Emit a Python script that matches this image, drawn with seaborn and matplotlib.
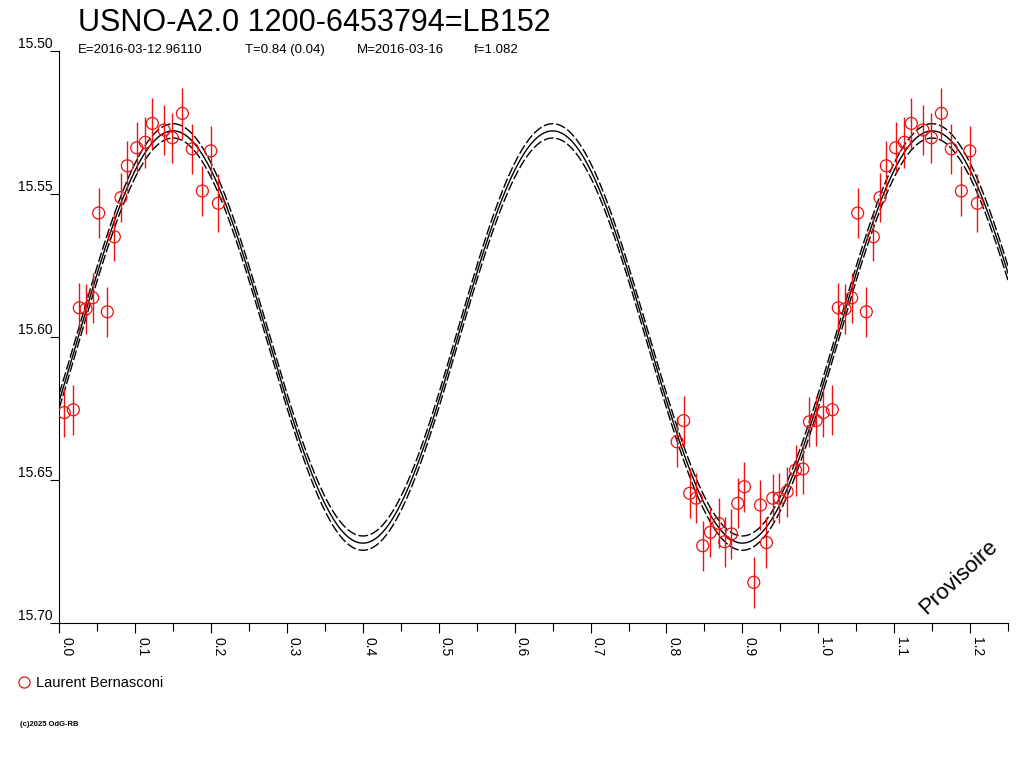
import numpy as np
import pandas as pd
import matplotlib
matplotlib.use("Agg")
import matplotlib.pyplot as plt
import seaborn as sns
from matplotlib.ticker import MultipleLocator, FormatStrFormatter
from matplotlib.lines import Line2D

# --- texts ---
title = "USNO-A2.0 1200-6453794=LB152"
info = ["E=2016-03-12.96110", "T=0.84 (0.04)", "M=2016-03-16", "f=1.082"]
observer = "Laurent Bernasconi"

# --- observations (phase in [0,1), magnitude, 1-sigma error) ---
phase = [0.0066, 0.0185, 0.0264, 0.0352, 0.0440, 0.0519, 0.0633, 0.0725, 0.0813, 0.0897,
         0.1020, 0.1134, 0.1226, 0.1380, 0.1490, 0.1622, 0.1753, 0.1885, 0.1996, 0.2096,
         0.8140, 0.8227, 0.8306, 0.8394, 0.8477, 0.8579, 0.8688, 0.8767, 0.8856, 0.8939,
         0.9027, 0.9150, 0.9238, 0.9317, 0.9400, 0.9489, 0.9590, 0.9700, 0.9796, 0.9884,
         0.9972]
mag = [15.6264, 15.6254, 15.5898, 15.5902, 15.5863, 15.5567, 15.5912, 15.5650, 15.5513, 15.5402,
       15.5339, 15.5320, 15.5254, 15.5277, 15.5304, 15.5219, 15.5343, 15.5490, 15.5350, 15.5533,
       15.6366, 15.6292, 15.6546, 15.6563, 15.6729, 15.6682, 15.6651, 15.6715, 15.6688, 15.6581,
       15.6523, 15.6857, 15.6587, 15.6718, 15.6563, 15.6563, 15.6540, 15.6465, 15.6461, 15.6296,
       15.6292]
mag_err = [0.0086, 0.0088, 0.0086, 0.0087, 0.0087, 0.0088, 0.0087, 0.0084, 0.0087, 0.0087,
           0.0089, 0.0088, 0.0088, 0.0087, 0.0087, 0.0088, 0.0087, 0.0088, 0.0088, 0.0102,
           0.0087, 0.0087, 0.0087, 0.0087, 0.0088, 0.0087, 0.0087, 0.0088, 0.0087, 0.0087,
           0.0087, 0.0088, 0.0088, 0.0090, 0.0086, 0.0087, 0.0087, 0.0089, 0.0088, 0.0088,
           0.0087]

# --- fitted double-wave model (two maxima per rotation) ---
fit_mean = 15.600
fit_amp = 0.072
fit_max_phase = 0.15
fit_sigma = 0.0025
phase_max = 1.25

sns.set_theme(style="ticks", rc={'text.color': 'black', 'xtick.color': 'black',
                                 'ytick.color': 'black', 'axes.labelcolor': 'black'})
plt.rcParams['font.family'] = ['Liberation Sans', 'DejaVu Sans']

fig = plt.figure(figsize=(10.24, 7.68), dpi=100)
ax = fig.add_axes([0.0579, 0.1884, 0.9265, 0.7456])

obs = pd.DataFrame({'phase': phase, 'mag': mag, 'err': mag_err})
wrap = obs[obs['phase'] + 1 <= phase_max].assign(phase=lambda d: d['phase'] + 1)
obs = pd.concat([obs, wrap], ignore_index=True)

grid = np.linspace(0, phase_max, 800)
wave = fit_mean - fit_amp * np.cos(4 * np.pi * (grid - fit_max_phase))
fit = pd.concat([pd.DataFrame({'phase': grid, 'mag': wave + off, 'curve': name})
                 for name, off in [('fit', 0.0), ('bright', -fit_sigma), ('faint', fit_sigma)]],
                ignore_index=True)

sns.lineplot(data=fit, x='phase', y='mag', style='curve',
             dashes={'fit': '', 'bright': (7, 2), 'faint': (7, 2)},
             color='black', linewidth=1.0, estimator=None, sort=False,
             legend=False, ax=ax)

ax.errorbar(obs['phase'], obs['mag'], yerr=obs['err'], fmt='none',
            ecolor='#ee1111', elinewidth=1.0, capsize=0, zorder=3)
sns.scatterplot(data=obs, x='phase', y='mag', marker='o', s=74,
                facecolors='none', edgecolor='#ee1111', linewidth=0.9,
                legend=False, ax=ax, zorder=4)

# axes look
ax.set_xlim(0, phase_max)
ax.set_ylim(15.70, 15.50)
ax.set_xlabel('')
ax.set_ylabel('')
for side in ['top', 'right']:
    ax.spines[side].set_visible(False)
for side in ['left', 'bottom']:
    ax.spines[side].set_color('black')
    ax.spines[side].set_linewidth(0.8)

ax.xaxis.set_major_locator(MultipleLocator(0.1))
ax.xaxis.set_minor_locator(MultipleLocator(0.05))
ax.xaxis.set_major_formatter(FormatStrFormatter('%.1f'))
ax.yaxis.set_major_locator(MultipleLocator(0.05))
ax.yaxis.set_major_formatter(FormatStrFormatter('%.2f'))

ax.tick_params(axis='x', which='major', direction='out', length=7.5, width=0.8,
               color='black', labelcolor='black', labelsize=10, labelrotation=-90, pad=2)
ax.tick_params(axis='x', which='minor', direction='out', length=6, width=0.8, color='black')
ax.tick_params(axis='y', which='major', direction='out', length=6.5, width=0.8,
               color='black', labelcolor='black', labelsize=10, pad=-2)
for lbl in ax.get_xticklabels():
    lbl.set_ha('left')
    lbl.set_va('top')
for lbl in ax.get_yticklabels():
    lbl.set_va('bottom')

# titles
fig.text(78 / 1024, 1 - 31 / 768, title, fontsize=22, va='baseline', ha='left', color='black')
for xpx, txt in zip([78, 245, 357, 474], info):
    fig.text(xpx / 1024, 1 - 53 / 768, txt, fontsize=9.5, va='baseline', ha='left', color='black')

# legend
handle = Line2D([], [], marker='o', ls='none', mfc='none', mec='#ee1111', ms=8, mew=0.9)
leg = ax.legend(handles=[handle], labels=[observer], loc='center left',
                bbox_to_anchor=(17 / 1024, 1 - 683 / 768), bbox_transform=fig.transFigure,
                frameon=False, fontsize=10.5, handlelength=1, handletextpad=0.3,
                borderpad=0, borderaxespad=0)
for t in leg.get_texts():
    t.set_color('black')

fig.text(958 / 1024, 1 - 577 / 768, "Provisoire", fontsize=16, rotation=43,
         ha='center', va='center', color='black')
fig.text(20 / 1024, 1 - 724 / 768, "(c)2025 OdG-RB", fontsize=5.5,
         fontweight='bold', va='center', ha='left', color='black')

fig.savefig('out.png', dpi=100)
